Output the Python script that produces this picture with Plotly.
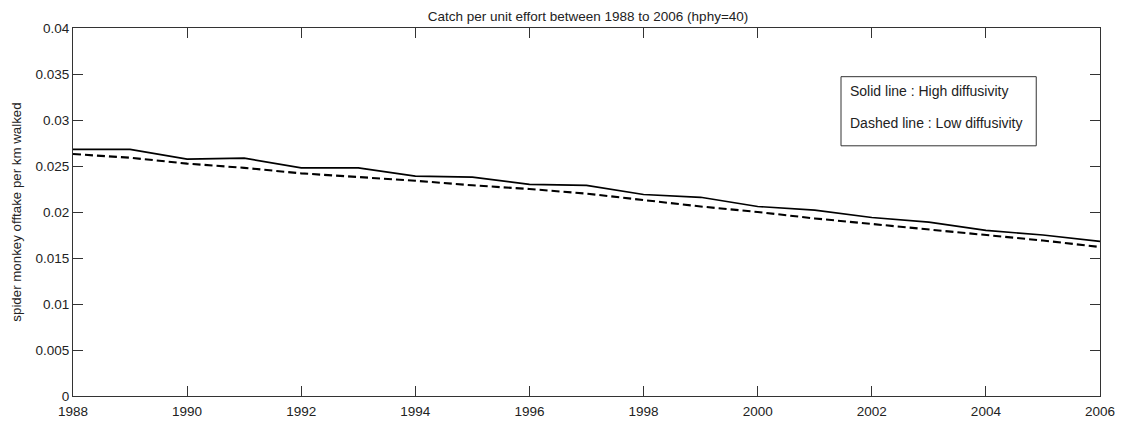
import plotly.graph_objects as go

years = list(range(1988, 2007))

# catch per unit effort, high diffusivity scenario
cpue_high = [0.0268, 0.0268, 0.02575, 0.02585, 0.0248, 0.0248, 0.0239, 0.0238,
             0.0230, 0.0229, 0.0219, 0.0216, 0.0206, 0.0202, 0.0194, 0.0189,
             0.0180, 0.0175, 0.0168]

# catch per unit effort, low diffusivity scenario
cpue_low = [0.0263, 0.0259, 0.02526, 0.0248, 0.0242, 0.0238, 0.0234, 0.0229,
            0.0225, 0.0220, 0.0213, 0.0206, 0.0200, 0.0193, 0.0187, 0.0181,
            0.0175, 0.0169, 0.0162]

x_ticks = list(range(1988, 2007, 2))
y_ticks = [0, 0.005, 0.01, 0.015, 0.02, 0.025, 0.03, 0.035, 0.04]
y_tick_text = ["0", "0.005", "0.01", "0.015", "0.02", "0.025", "0.03", "0.035", "0.04"]

font_family = "Liberation Sans, Arial, sans-serif"
axis_color = "#333333"
text_color = "#222222"

# plot area in pixels
W, H = 1127, 431
L, R, T, B = 73, 1104, 28, 406


def px_x(x):
    return (x - L) / (R - L)


def px_y(y):
    return (B - y) / (B - T)


fig = go.Figure()
fig.add_trace(go.Scatter(x=years, y=cpue_high, mode="lines",
                         line=dict(color="black", width=1.7), showlegend=False))
fig.add_trace(go.Scatter(x=years, y=cpue_low, mode="lines",
                         line=dict(color="black", width=2.1, dash="8px,4px"),
                         showlegend=False))

axis_common = dict(showgrid=False, zeroline=False, showline=True, linecolor=axis_color,
                   linewidth=1, mirror="ticks", ticks="inside", ticklen=10,
                   tickcolor=axis_color, tickwidth=1,
                   tickfont=dict(family=font_family, size=13.5, color=text_color))

fig.update_xaxes(range=[1988, 2006], tickvals=x_ticks, ticklabelstandoff=3, **axis_common)
fig.update_yaxes(range=[0, 0.04], tickvals=y_ticks, ticktext=y_tick_text,
                 title=dict(text="spider monkey offtake per km walked",
                            font=dict(family=font_family, size=13.3, color=text_color),
                            standoff=10),
                 **axis_common)

# text box in the upper right describing the two line styles
fig.add_shape(type="rect", xref="paper", yref="paper",
              x0=px_x(844), x1=px_x(1040), y0=px_y(149), y1=px_y(78),
              line=dict(color=axis_color, width=1), fillcolor="white", layer="above")
for label, yc in [("Solid line : High diffusivity", 93),
                  ("Dashed line : Low diffusivity", 126)]:
    fig.add_annotation(x=px_x(851), y=px_y(yc), xref="paper", yref="paper",
                       xanchor="left", yanchor="middle", showarrow=False, text=label,
                       font=dict(family=font_family, size=14, color=text_color))

fig.update_layout(
    width=W, height=H,
    margin=dict(l=L, r=W - R, t=T, b=H - B),
    paper_bgcolor="white", plot_bgcolor="white",
    title=dict(text="Catch per unit effort between 1988 to 2006 (hphy=40)",
               x=588 / W, xanchor="center", y=1 - 16 / H, yanchor="middle",
               font=dict(family=font_family, size=13.5, color=text_color)),
)

fig.write_html("out.html")
